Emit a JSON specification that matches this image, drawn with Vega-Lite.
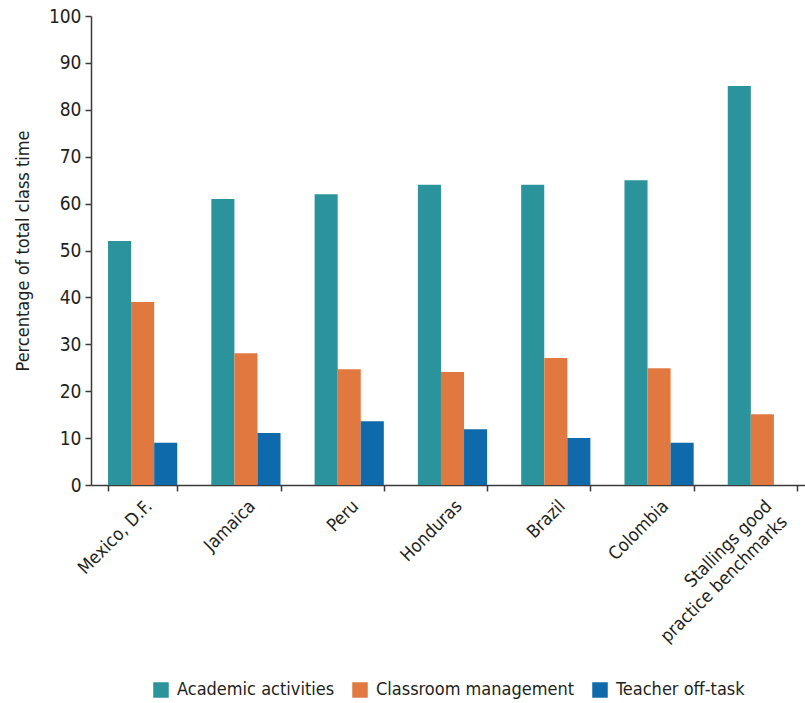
{
  "$schema": "https://vega.github.io/schema/vega-lite/v6.json",
  "autosize": "none",
  "width": 723,
  "height": 469,
  "padding": {"left": 91, "top": 16, "right": 0, "bottom": 218},
  "background": "white",
  "config": {
    "view": {"stroke": null},
    "font": "DejaVu Sans Condensed",
    "axis": {"domainColor": "#3a3a3a", "tickColor": "#3a3a3a", "labelColor": "#231f20", "titleColor": "#231f20", "grid": false, "labelFont": "DejaVu Sans Condensed", "titleFont": "DejaVu Sans Condensed"},
    "legend": {"labelFont": "DejaVu Sans Condensed"}
  },
  "data": {"values": [
    {"country": "Mexico, D.F.", "category": "Academic activities", "value": 52},
    {"country": "Mexico, D.F.", "category": "Classroom management", "value": 39},
    {"country": "Mexico, D.F.", "category": "Teacher off-task", "value": 9},
    {"country": "Jamaica", "category": "Academic activities", "value": 61},
    {"country": "Jamaica", "category": "Classroom management", "value": 28.1},
    {"country": "Jamaica", "category": "Teacher off-task", "value": 11.1},
    {"country": "Peru", "category": "Academic activities", "value": 62},
    {"country": "Peru", "category": "Classroom management", "value": 24.7},
    {"country": "Peru", "category": "Teacher off-task", "value": 13.6},
    {"country": "Honduras", "category": "Academic activities", "value": 64},
    {"country": "Honduras", "category": "Classroom management", "value": 24.1},
    {"country": "Honduras", "category": "Teacher off-task", "value": 11.9},
    {"country": "Brazil", "category": "Academic activities", "value": 64},
    {"country": "Brazil", "category": "Classroom management", "value": 27.1},
    {"country": "Brazil", "category": "Teacher off-task", "value": 10},
    {"country": "Colombia", "category": "Academic activities", "value": 65},
    {"country": "Colombia", "category": "Classroom management", "value": 24.9},
    {"country": "Colombia", "category": "Teacher off-task", "value": 9},
    {"country": "Stallings good practice benchmarks", "category": "Academic activities", "value": 85.1},
    {"country": "Stallings good practice benchmarks", "category": "Classroom management", "value": 15.1}
  ]},
  "mark": {"type": "bar"},
  "encoding": {
    "x": {
      "field": "country", "type": "nominal", "sort": null,
      "scale": {"paddingInner": 0.33, "paddingOuter": 0.165},
      "axis": {
        "title": null, "labelAngle": -45, "labelFontSize": 18, "labelPadding": 6,
        "tickBand": "extent", "tickSize": 6, "domainWidth": 1.5, "tickWidth": 1.5,
        "labelExpr": "datum.value == 'Stallings good practice benchmarks' ? ['Stallings good', 'practice benchmarks'] : datum.label",
        "labelLineHeight": 22, "labelLimit": 0
      }
    },
    "xOffset": {"field": "category", "type": "nominal", "sort": ["Academic activities", "Classroom management", "Teacher off-task"], "scale": {"paddingInner": 0, "paddingOuter": 0}},
    "y": {
      "field": "value", "type": "quantitative",
      "scale": {"domain": [0, 100]},
      "axis": {"title": "Percentage of total class time", "titleFontSize": 18, "titleFontWeight": "normal", "titlePadding": 16, "labelFontSize": 19, "values": [0,10,20,30,40,50,60,70,80,90,100], "tickSize": 6, "domainWidth": 1.5, "tickWidth": 1.5, "labelPadding": 4}
    },
    "color": {
      "field": "category", "type": "nominal",
      "scale": {"domain": ["Academic activities", "Classroom management", "Teacher off-task"], "range": ["#2a939b", "#e07840", "#0e6aab"]},
      "legend": {"title": null, "orient": "none", "legendX": 61, "legendY": 665, "direction": "horizontal", "symbolType": "square", "symbolSize": 240, "symbolStrokeWidth": 0, "symbolOpacity": 1, "labelFontSize": 18, "labelLimit": 0, "labelColor": "#231f20", "columnPadding": 16, "labelOffset": 7}
    }
  }
}
